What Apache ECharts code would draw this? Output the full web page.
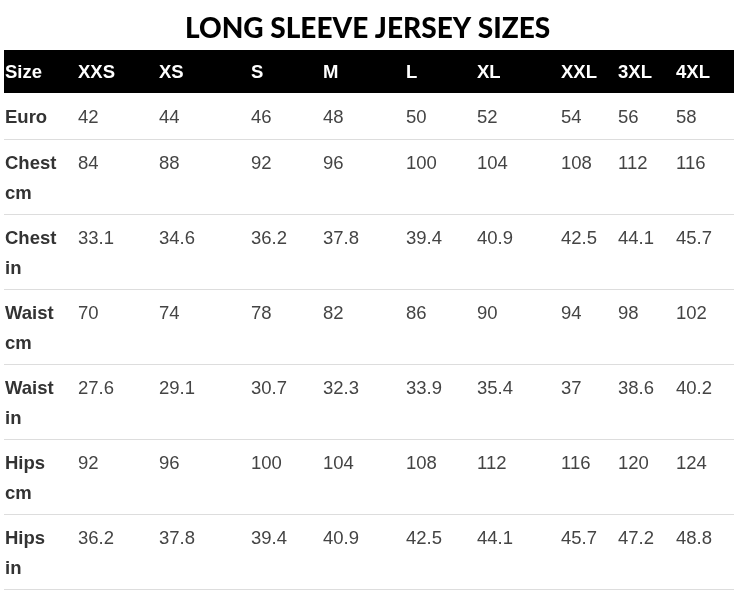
<!DOCTYPE html>
<html>
<head>
<meta charset="utf-8">
<script src="https://cdn.jsdelivr.net/npm/echarts@6/dist/echarts.min.js"></script>
<style>
html,body{margin:0;padding:0;background:#fff;}
#chart{width:740px;height:598px;}
</style>
</head>
<body>
<div id="chart"></div>
<script>
// ---- data ----
const titleText = 'LONG SLEEVE JERSEY SIZES';
const headerLabel = 'Size';
const sizes = ['XXS', 'XS', 'S', 'M', 'L', 'XL', 'XXL', '3XL', '4XL'];
const rowLabels = ['Euro', 'Chest\ncm', 'Chest\nin', 'Waist\ncm', 'Waist\nin', 'Hips\ncm', 'Hips\nin'];
const euro = [42, 44, 46, 48, 50, 52, 54, 56, 58];
const chestCm = [84, 88, 92, 96, 100, 104, 108, 112, 116];
const chestIn = [33.1, 34.6, 36.2, 37.8, 39.4, 40.9, 42.5, 44.1, 45.7];
const waistCm = [70, 74, 78, 82, 86, 90, 94, 98, 102];
const waistIn = [27.6, 29.1, 30.7, 32.3, 33.9, 35.4, 37, 38.6, 40.2];
const hipsCm = [92, 96, 100, 104, 108, 112, 116, 120, 124];
const hipsIn = [36.2, 37.8, 39.4, 40.9, 42.5, 44.1, 45.7, 47.2, 48.8];
const rowValues = [euro, chestCm, chestIn, waistCm, waistIn, hipsCm, hipsIn];

// ---- layout (table geometry in axis units = pixels) ----
const colX = [5, 78, 159, 251, 323, 406, 477, 561, 618, 676];
const rowTop = [50, 93, 139, 214, 289, 364, 439, 514, 589];
const tableLeft = 4, tableRight = 734;

// build cells: [col, row, text, kind]
const cells = [];
cells.push([0, 0, headerLabel, 'head']);
sizes.forEach((s, i) => cells.push([i + 1, 0, s, 'head']));
rowLabels.forEach((lab, r) => {
  cells.push([0, r + 1, lab, 'label']);
  rowValues[r].forEach((v, c) => cells.push([c + 1, r + 1, String(v), 'value']));
});
const rowsData = rowTop.slice(0, -1).map((t, i) => [i]);

const chart = echarts.init(document.getElementById('chart'), null, {renderer: 'canvas'});
chart.setOption({
  backgroundColor: '#fff',
  animation: false,
  title: {
    text: titleText,
    left: 180,
    top: 10,
    textStyle: {fontFamily: 'Lato', fontWeight: 900, fontSize: 28, color: '#000'}
  },
  grid: {left: 0, right: 0, top: 0, bottom: 0},
  xAxis: {type: 'value', min: 0, max: 740, show: false},
  yAxis: {type: 'value', min: 0, max: 598, inverse: true, show: false},
  series: [
    {
      type: 'custom',
      silent: true,
      data: rowsData,
      renderItem: function (params, api) {
        const r = api.value(0);
        const p0 = api.coord([tableLeft, rowTop[r]]);
        const p1 = api.coord([tableRight, rowTop[r + 1]]);
        if (r === 0) {
          return {type: 'rect', shape: {x: p0[0], y: p0[1], width: p1[0] - p0[0], height: p1[1] - p0[1]}, style: {fill: '#000'}};
        }
        return {type: 'line', shape: {x1: p0[0], y1: p1[1] + 0.5, x2: p1[0], y2: p1[1] + 0.5}, style: {stroke: '#dddddd', lineWidth: 1}};
      }
    },
    {
      type: 'custom',
      silent: true,
      data: cells,
      renderItem: function (params, api) {
        const c = api.value(0), r = api.value(1);
        const d = cells[params.dataIndex];
        const kind = d[3];
        const p = api.coord([colX[c], rowTop[r]]);
        const off = r === 0 ? 7.5 : 9.5;
        return {
          type: 'text',
          style: {
            text: d[2],
            x: p[0],
            y: p[1] + off,
            align: 'left',
            verticalAlign: 'top',
            lineHeight: 30,
            fontFamily: 'Liberation Sans, Arial, sans-serif',
            fontSize: 18.5,
            fontWeight: kind === 'value' ? 'normal' : 'bold',
            fill: kind === 'head' ? '#fff' : (kind === 'label' ? '#333' : '#444')
          }
        };
      }
    }
  ]
});
</script>
</body>
</html>
